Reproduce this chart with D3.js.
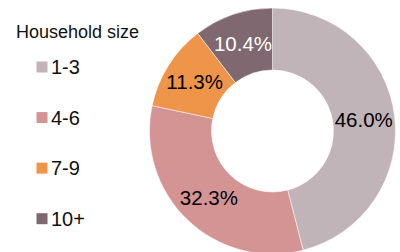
<!DOCTYPE html>
<html><head><meta charset="utf-8">
<script src="https://cdn.jsdelivr.net/npm/d3@7"></script>
<style>body{margin:0;background:#fff}svg{display:block;font-family:"Liberation Sans",Arial,sans-serif}</style>
</head><body><svg id="c" width="400" height="252"></svg>
<script>
const categories = ["1-3", "4-6", "7-9", "10+"];
const values = [46.0, 32.3, 11.3, 10.4];
const labels = ["46.0%", "32.3%", "11.3%", "10.4%"];
const colors = ["#c1b4b9", "#d49494", "#ef9549", "#7f6870"];
const labelColors = ["#000", "#000", "#000", "#fff"];
const legendTitle = "Household size";

const svg = d3.select("#c");
const cx = 272.5, cy = 131, rOuter = 123, rInner = 61;
const data = categories.map((c, i) => ({c, v: values[i], i}));
const pie = d3.pie().value(d => d.v).sort(null);
const arc = d3.arc().innerRadius(rInner).outerRadius(rOuter);
const g = svg.append("g").attr("transform", `translate(${cx},${cy})`);
const arcs = pie(data);
g.selectAll("path").data(arcs).join("path")
  .attr("d", arc).attr("fill", d => colors[d.data.i])
  .attr("stroke", "#fff").attr("stroke-width", 0.5);
g.selectAll("text").data(arcs).join("text")
  .attr("transform", d => `translate(${arc.centroid(d)})`)
  .attr("text-anchor", "middle").attr("dy", "0.36em")
  .attr("font-size", 20.5).attr("fill", d => labelColors[d.data.i])
  .text(d => labels[d.data.i]);

svg.append("text").attr("x", 16).attr("y", 37.5).attr("font-size", 18).attr("fill", "#111").text(legendTitle);
const ly = d3.scalePoint().domain(categories).range([67, 218.7]);
const lg = svg.append("g").selectAll("g").data(categories).join("g")
  .attr("transform", d => `translate(0,${ly(d)})`);
lg.append("rect").attr("x", 36.5).attr("y", -5.5).attr("width", 11).attr("height", 11)
  .attr("fill", (d, i) => colors[i]);
lg.append("text").attr("x", 51).attr("y", 0).attr("dy", "0.36em").attr("font-size", 20).attr("fill", "#111").text(d => d);
</script></body></html>
